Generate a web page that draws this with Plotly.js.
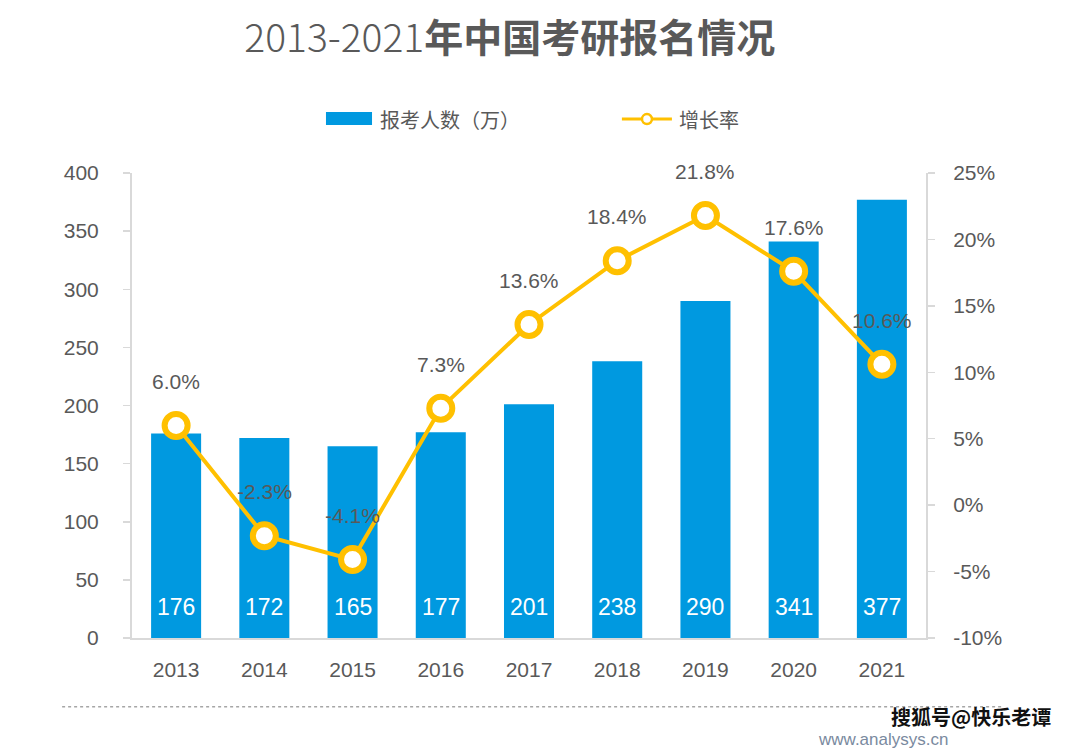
<!DOCTYPE html>
<html>
<head>
<meta charset="utf-8">
<script src="https://cdn.plot.ly/plotly-3.0.1.min.js"></script>
<style>html,body{margin:0;padding:0;background:#fff;}#chart{width:1080px;height:750px;}</style>
</head>
<body>
<div id="chart"></div>
<script>
const years = ['2013','2014','2015','2016','2017','2018','2019','2020','2021'];
const applicants = [176, 172, 165, 177, 201, 238, 290, 341, 377];
const growthRate = [6.0, -2.3, -4.1, 7.3, 13.6, 18.4, 21.8, 17.6, 10.6];
const leftTicks = [0, 50, 100, 150, 200, 250, 300, 350, 400];
const rightTickVals = [-10, -5, 0, 5, 10, 15, 20, 25];
const rightTickText = ['-10%', '-5%', '0%', '5%', '10%', '15%', '20%', '25%'];

const BLUE = '#0099E0';
const GOLD = '#FFC000';
const GRAY = '#595959';
const AXIS = '#D9D9D9';
const FONT = 'Liberation Sans, Arial, Noto Sans CJK SC, sans-serif';
const CJK = 'Noto Sans CJK SC, sans-serif';

const traces = [
  {
    type: 'bar', name: '报考人数（万）', x: years, y: applicants,
    marker: {color: BLUE}, hoverinfo: 'x+y', showlegend: false
  },
  {
    type: 'scatter', mode: 'lines+markers', name: '增长率', x: years, y: growthRate,
    yaxis: 'y2', line: {color: GOLD, width: 4},
    marker: {size: 23, color: '#FFFFFF', line: {color: GOLD, width: 6}},
    showlegend: false
  }
];

const annotations = [];
years.forEach((yr, i) => {
  annotations.push({
    x: i, y: 0, xref: 'x', yref: 'y', text: String(applicants[i]),
    showarrow: false, yanchor: 'bottom', yshift: 16,
    font: {family: FONT, size: 23, color: '#FFFFFF'}
  });
  annotations.push({
    x: i, y: growthRate[i], xref: 'x', yref: 'y2', text: growthRate[i].toFixed(1) + '%',
    showarrow: false, yanchor: 'middle', yshift: 44,
    font: {family: FONT, size: 21, color: GRAY}
  });
});
// legend labels
annotations.push({xref: 'paper', yref: 'paper', x: 0.3098, y: 1.116, xanchor: 'left', yanchor: 'middle',
  text: '报考人数（万）', showarrow: false, font: {family: CJK, size: 20, color: GRAY}});
annotations.push({xref: 'paper', yref: 'paper', x: 0.6864, y: 1.116, xanchor: 'left', yanchor: 'middle',
  text: '增长率', showarrow: false, font: {family: CJK, size: 20, color: GRAY}});
// source / watermark texts
annotations.push({xref: 'paper', yref: 'paper', x: 1.03, y: -0.218, xanchor: 'right', yanchor: 'middle',
  text: 'www.analysys.cn', showarrow: false, font: {family: FONT, size: 17, color: '#7A8AA0'}});
annotations.push({xref: 'paper', yref: 'paper', x: 1.16, y: -0.168, xanchor: 'right', yanchor: 'middle',
  text: '<b>搜狐号@快乐老谭</b>', showarrow: false, font: {family: CJK, size: 20, color: '#111111'}});

const shapes = [
  // legend: bar swatch
  {type: 'rect', xref: 'paper', yref: 'paper', x0: 0.2443, x1: 0.3023, y0: 1.103, y1: 1.131,
   fillcolor: BLUE, line: {width: 0}},
  // legend: line
  {type: 'line', xref: 'paper', yref: 'paper', x0: 0.617, x1: 0.680, y0: 1.116, y1: 1.116,
   line: {color: GOLD, width: 3}},
  {type: 'circle', xref: 'paper', yref: 'paper', xsizemode: 'pixel', ysizemode: 'pixel',
   xanchor: 0.6486, yanchor: 1.116, x0: -5, x1: 5, y0: -5, y1: 5,
   fillcolor: '#FFFFFF', line: {color: GOLD, width: 2.5}},
  // bottom dotted separator
  {type: 'line', xref: 'paper', yref: 'paper', x0: -0.088, x1: 1.097, y0: -0.148, y1: -0.148,
   line: {color: '#A6A6A6', width: 1.5, dash: 'dot'}}
];

const layout = {
  width: 1080, height: 750,
  margin: {l: 132, r: 154, t: 173, b: 112, pad: 0},
  paper_bgcolor: '#FFFFFF', plot_bgcolor: '#FFFFFF',
  font: {family: FONT, color: GRAY},
  title: {
    text: '2013-2021<b>年中国考研报名情况</b>',
    x: 0.472, xref: 'container', xanchor: 'center',
    y: 0.949, yref: 'container', yanchor: 'middle',
    font: {family: CJK, size: 39, color: GRAY, weight: 300}
  },
  bargap: 0.433,
  showlegend: false,
  xaxis: {
    type: 'category', range: [-0.5, 8.5],
    showline: true, linecolor: AXIS, linewidth: 2,
    ticks: '', showgrid: false, zeroline: false,
    tickfont: {family: FONT, size: 21, color: GRAY},
    ticklabelstandoff: 12
  },
  yaxis: {
    range: [0, 400], tickvals: leftTicks,
    showline: true, linecolor: AXIS, linewidth: 2,
    ticks: 'outside', ticklen: 7, tickcolor: AXIS, tickwidth: 1.5,
    showgrid: false, zeroline: false,
    tickfont: {family: FONT, size: 21, color: GRAY},
    ticklabelstandoff: 20
  },
  yaxis2: {
    overlaying: 'y', side: 'right', range: [-10, 25],
    tickvals: rightTickVals, ticktext: rightTickText,
    showline: true, linecolor: AXIS, linewidth: 2,
    ticks: 'outside', ticklen: 7, tickcolor: AXIS, tickwidth: 1.5,
    showgrid: false, zeroline: false,
    tickfont: {family: FONT, size: 21, color: GRAY},
    ticklabelstandoff: 14
  },
  annotations: annotations,
  shapes: shapes
};

Plotly.newPlot('chart', traces, layout, {displayModeBar: false, staticPlot: true});
</script>
</body>
</html>
